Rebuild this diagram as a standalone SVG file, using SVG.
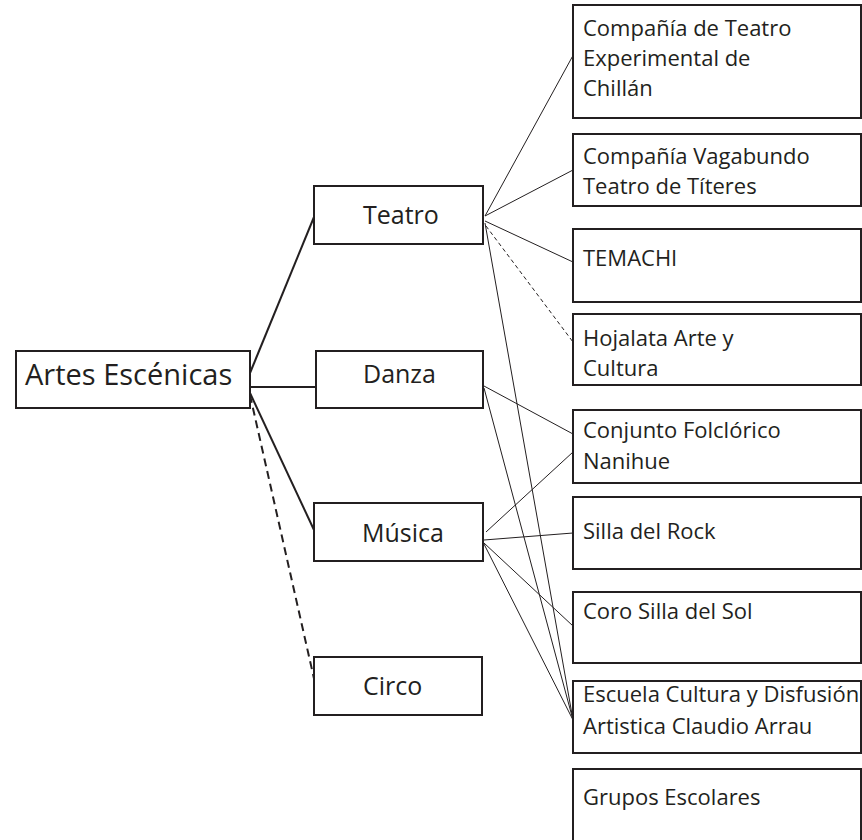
<svg xmlns="http://www.w3.org/2000/svg" width="862" height="840" viewBox="0 0 862 840">
<style>
.box{fill:#fff;stroke:#231f20;stroke-width:2}
.t{font-family:"Open Sans","Liberation Sans",sans-serif;fill:#231f20}
.r{font-size:22px}
.c{font-size:25px}
.thick{stroke:#231f20;stroke-width:2;fill:none}
.thin{stroke:#231f20;stroke-width:1;fill:none}
.dash2{stroke-dasharray:8 5}
.dash1{stroke-dasharray:4 3}
</style>
<rect width="862" height="840" fill="#fff"/>
<g id="connectors">
<line class="thick" x1="250" y1="373" x2="314" y2="217"/>
<line class="thick" x1="250" y1="387" x2="316" y2="387"/>
<line class="thick" x1="250" y1="393" x2="314" y2="530"/>
<line class="thick dash2" x1="250" y1="395" x2="315" y2="683"/>
<line class="thin" x1="485" y1="216" x2="576" y2="50"/>
<line class="thin" x1="485" y1="216" x2="573" y2="170"/>
<line class="thin" x1="485" y1="221" x2="573" y2="262"/>
<line class="thin dash1" x1="486" y1="226" x2="573" y2="342"/>
<line class="thin" x1="485" y1="223" x2="573" y2="720"/>
<line class="thin" x1="484" y1="386" x2="573" y2="434"/>
<line class="thin" x1="484" y1="388" x2="573" y2="720"/>
<line class="thin" x1="486" y1="532" x2="573" y2="452"/>
<line class="thin" x1="484" y1="540" x2="573" y2="533"/>
<line class="thin" x1="484" y1="543" x2="573" y2="626"/>
<line class="thin" x1="484" y1="544" x2="573" y2="720"/>
</g>
<g id="artes">
<rect class="box" x="16" y="351" width="234" height="57"/>
<text class="t" x="25" y="385" font-size="29">Artes Escénicas</text>
</g>
<g id="teatro">
<rect class="box" x="314" y="186" width="169" height="58"/>
<text class="t c" x="363" y="224">Teatro</text>
</g>
<g id="danza">
<rect class="box" x="316" y="351" width="167" height="57"/>
<text class="t c" x="363" y="383">Danza</text>
</g>
<g id="musica">
<rect class="box" x="314" y="503" width="169" height="58"/>
<text class="t c" x="362" y="542">Música</text>
</g>
<g id="circo">
<rect class="box" x="314" y="657" width="168" height="58"/>
<text class="t c" x="363" y="695">Circo</text>
</g>
<g id="n1">
<rect class="box" x="573" y="5" width="288" height="113"/>
<text class="t r" x="583" y="36">Compañía de Teatro</text>
<text class="t r" x="583" y="66">Experimental de</text>
<text class="t r" x="583" y="96">Chillán</text>
</g>
<g id="n2">
<rect class="box" x="573" y="134" width="288" height="72"/>
<text class="t r" x="583" y="164">Compañía Vagabundo</text>
<text class="t r" x="583" y="194">Teatro de Títeres</text>
</g>
<g id="n3">
<rect class="box" x="573" y="229" width="288" height="73"/>
<text class="t r" x="583" y="266">TEMACHI</text>
</g>
<g id="n4">
<rect class="box" x="573" y="314" width="288" height="71"/>
<text class="t r" x="583" y="346">Hojalata Arte y</text>
<text class="t r" x="583" y="376">Cultura</text>
</g>
<g id="n5">
<rect class="box" x="573" y="410" width="288" height="73"/>
<text class="t r" x="583" y="438">Conjunto Folclórico</text>
<text class="t r" x="583" y="469">Nanihue</text>
</g>
<g id="n6">
<rect class="box" x="573" y="497" width="288" height="72"/>
<text class="t r" x="583" y="539">Silla del Rock</text>
</g>
<g id="n7">
<rect class="box" x="573" y="592" width="288" height="71"/>
<text class="t r" x="583" y="619">Coro Silla del Sol</text>
</g>
<g id="n8">
<rect class="box" x="573" y="681" width="288" height="72"/>
<text class="t r" x="583" y="702">Escuela Cultura y Disfusión</text>
<text class="t r" x="583" y="734">Artistica Claudio Arrau</text>
</g>
<g id="n9">
<rect class="box" x="573" y="769" width="288" height="76"/>
<text class="t r" x="583" y="805">Grupos Escolares</text>
</g>
</svg>
